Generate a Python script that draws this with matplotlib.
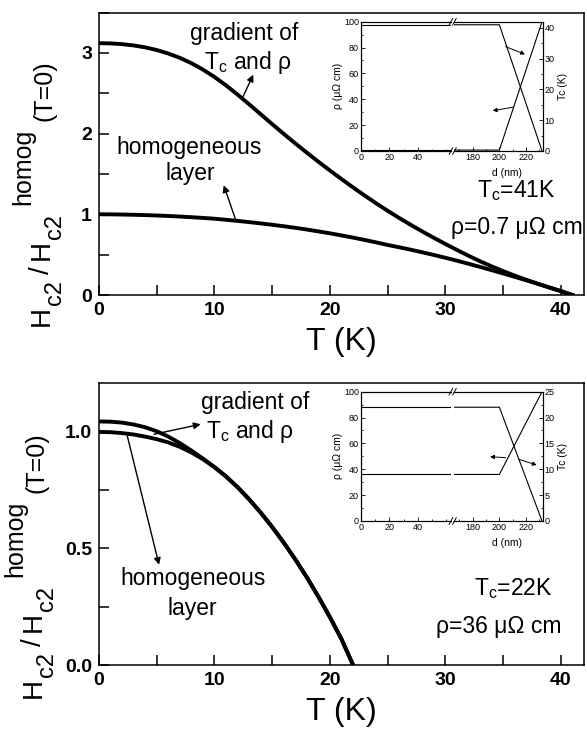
import matplotlib
matplotlib.use('Agg')
import matplotlib.pyplot as plt
from matplotlib.ticker import MultipleLocator, FixedLocator

plt.rcParams['font.family'] = ['Liberation Sans', 'DejaVu Sans']
plt.rcParams['mathtext.fontset'] = 'custom'
plt.rcParams['mathtext.rm'] = 'Liberation Sans'
plt.rcParams['mathtext.it'] = 'Liberation Sans:italic'
plt.rcParams['mathtext.bf'] = 'Liberation Sans:bold'

# upper panel: Tc = 41 K, rho = 0.7 uOhm cm
t_top = list(range(0, 42))
hc2_homog_top = [1.0, 0.999, 0.997, 0.994, 0.990, 0.985, 0.979, 0.972, 0.964, 0.955,
                 0.945, 0.932, 0.918, 0.903, 0.887, 0.870, 0.852, 0.832, 0.811, 0.788,
                 0.764, 0.738, 0.711, 0.682, 0.652, 0.620, 0.591, 0.561, 0.529, 0.496,
                 0.461, 0.425, 0.387, 0.348, 0.308, 0.267, 0.225, 0.182, 0.138, 0.093,
                 0.048, 0.0]
hc2_grad_top = [3.12, 3.117, 3.108, 3.092, 3.068, 3.035, 2.992, 2.938, 2.872, 2.793,
                2.701, 2.597, 2.483, 2.363, 2.240, 2.117, 1.996, 1.878, 1.763, 1.651,
                1.542, 1.436, 1.333, 1.233, 1.136, 1.043, 0.954, 0.869, 0.787, 0.708,
                0.632, 0.558, 0.486, 0.418, 0.355, 0.296, 0.240, 0.188, 0.140, 0.093,
                0.048, 0.0]

# lower panel: Tc = 22 K, rho = 36 uOhm cm
t_bot = list(range(0, 23))
hc2_homog_bot = [1.0, 0.999, 0.995, 0.989, 0.980, 0.969, 0.955, 0.936, 0.912, 0.883,
                 0.849, 0.809, 0.763, 0.711, 0.654, 0.592, 0.525, 0.453, 0.376, 0.293,
                 0.205, 0.111, 0.0]
hc2_grad_bot = [1.045, 1.044, 1.040, 1.032, 1.020, 1.003, 0.980, 0.952, 0.920, 0.886,
                0.849, 0.809, 0.763, 0.711, 0.654, 0.592, 0.525, 0.453, 0.376, 0.293,
                0.205, 0.111, 0.0]

# inset profiles vs depth d (nm)
d_nm = [0, 200, 232]
rho_top = [0.7, 0.7, 100]
tc_top = [41, 41, 0]
rho_bot = [36, 36, 100]
tc_bot = [22, 22, 0]

W, H = 587, 740
fig = plt.figure(figsize=(W / 100, H / 100), dpi=100)
renderer = fig.canvas.get_renderer()


def px_axes(x0, y0, x1, y1):
    return fig.add_axes([x0 / W, 1 - y1 / H, (x1 - x0) / W, (y1 - y0) / H])


# y label pieces: (text, size, sideways offset in px (+ = lower for rotated text), gap before)
ylab_pieces = [('H', 20, 0, 0), ('c2', 17, 13, 1), ('/', 20, 0, 6), ('H', 20, 0, 6),
               ('c2', 17, 13, 1), ('homog', 18, -19, 9), ('(T=0)', 18, 3, 8)]


def stacked_ylabel(xc, yc, pieces):
    items = []
    for s, size, dx, gap in pieces:
        t = fig.text(0, 0, s, fontsize=size, rotation=90, ha='center', va='center')
        items.append((t, dx, gap, t.get_window_extent(renderer).height))
    total = sum(h + g for _, _, g, h in items)
    y = yc + total / 2
    for t, dx, gap, h in items:
        y -= gap
        t.set_position(((xc + dx) / W, 1 - (y - h / 2) / H))
        y -= h


def main_panel(ax, t, homog, t2, grad, ymax, ystep, yminor, yfmt):
    ax.plot(t, homog, color='k', lw=2.8, solid_joinstyle='round')
    ax.plot(t2, grad, color='k', lw=2.8, solid_joinstyle='round')
    ax.set_xlim(0, 42)
    ax.set_ylim(0, ymax)
    ax.xaxis.set_major_locator(MultipleLocator(10))
    ax.xaxis.set_minor_locator(MultipleLocator(5))
    ax.yaxis.set_major_locator(MultipleLocator(ystep))
    ax.yaxis.set_minor_locator(MultipleLocator(yminor))
    ax.yaxis.set_major_formatter(yfmt)
    ax.tick_params(which='both', direction='in', top=False, right=False, width=1.1)
    ax.tick_params(which='major', length=7, labelsize=14, pad=5)
    ax.tick_params(which='minor', length=7)
    for lab in ax.get_xticklabels() + ax.get_yticklabels():
        lab.set_fontweight('bold')
    for s in ax.spines.values():
        s.set_linewidth(1.1)
    ax.set_xlabel('T (K)', fontsize=23)
    ax.xaxis.set_label_coords(0.5, -0.115)


def inset(x0, y0, x1, y1, d, rho, tc, tc_max, tc_step, arrows):
    gap = 3.5
    xm = 452.7
    axl = px_axes(x0, y0, xm - gap / 2, y1)
    axr = px_axes(xm + gap / 2, y0, x1, y1)
    axl2 = axl.twinx()
    axr2 = axr.twinx()
    axl.set_xlim(0, (xm - gap / 2 - x0) / 1.417)
    axr.set_xlim(180 - (472.7 - xm - gap / 2) / 1.333, 232.5)
    axl.xaxis.set_major_locator(FixedLocator([0, 20, 40]))
    axr.xaxis.set_major_locator(FixedLocator([180, 200, 220]))
    for a in (axl, axr):
        a.plot(d, rho, color='k', lw=0.8)
        a.set_ylim(0, 100)
        a.tick_params(which='both', direction='in', labelsize=6.5, width=0.6, pad=1.5)
        a.tick_params(which='major', length=3)
        a.tick_params(which='minor', length=1.5)
        a.xaxis.set_minor_locator(MultipleLocator(10))
        a.yaxis.set_major_locator(MultipleLocator(20))
        a.yaxis.set_minor_locator(MultipleLocator(10))
        for s in a.spines.values():
            s.set_linewidth(0.8)
    for a in (axl2, axr2):
        a.plot(d, tc, color='k', lw=0.8)
        a.set_ylim(0, tc_max)
        a.yaxis.set_major_locator(MultipleLocator(tc_step))
        a.yaxis.set_minor_locator(MultipleLocator(tc_step / 2))
        a.tick_params(which='both', direction='in', labelsize=6.5, width=0.6, pad=1.5)
        a.tick_params(which='major', length=3)
        a.tick_params(which='minor', length=1.5)
        for s in a.spines.values():
            s.set_linewidth(0.8)
    axl.spines['right'].set_visible(False)
    axl2.spines['right'].set_visible(False)
    axl2.tick_params(which='both', right=False, labelright=False)
    axr.spines['left'].set_visible(False)
    axr2.spines['left'].set_visible(False)
    axr.tick_params(which='both', left=False, labelleft=False)
    axl.set_ylabel(u'ρ (μΩ cm)', fontsize=7.5, labelpad=1)
    axr2.set_ylabel('Tc (K)', fontsize=7.5, labelpad=2)
    fig.text(507 / W, 1 - (y1 + 22) / H, 'd (nm)', fontsize=7.5, ha='center', va='center')
    # break marks
    kw = dict(color='k', lw=0.7, clip_on=False)
    for a, xe in ((axl, 1.0), (axr, 0.0)):
        for ye in (0.0, 1.0):
            a.plot([xe - 0.02, xe + 0.02], [ye - 0.025, ye + 0.025], transform=a.transAxes, **kw)
    for (xs, ys), (xt, yt) in arrows:
        axr.annotate('', xy=(xt, yt), xytext=(xs, ys),
                     arrowprops=dict(arrowstyle='-|>', lw=0.7, color='k',
                                     mutation_scale=6, shrinkA=0, shrinkB=0))


# ---- upper panel
ax1 = px_axes(99, 12.5, 584, 295)
main_panel(ax1, t_top, hc2_homog_top, t_top, hc2_grad_top, 3.5, 1, 0.5,
           lambda v, p: '%d' % v)
stacked_ylabel(42, 193, ylab_pieces)
fs = 16.5
ax1.text(12.6, 3.16, 'gradient of', fontsize=fs, ha='center', va='baseline')
ax1.text(12.9, 2.80, u'T$_{\\rm c}$ and ρ', fontsize=fs, ha='center', va='baseline')
ax1.text(7.8, 1.75, 'homogeneous', fontsize=fs, ha='center', va='baseline')
ax1.text(7.9, 1.42, 'layer', fontsize=fs, ha='center', va='baseline')
ax1.text(36.1, 1.215, r'T$_{\rm c}$=41K', fontsize=fs, ha='center', va='baseline')
ax1.text(36.2, 0.76, u'ρ=0.7 μΩ cm', fontsize=fs, ha='center', va='baseline')
arw = dict(arrowstyle='-|>', lw=1.0, color='k', mutation_scale=10, shrinkA=0, shrinkB=0)
ax1.annotate('', xy=(13.36, 2.73), xytext=(12.35, 2.42), arrowprops=arw)
ax1.annotate('', xy=(10.8, 1.36), xytext=(11.84, 0.93), arrowprops=arw)

inset(361, 21.7, 542.7, 151, d_nm, rho_top, tc_top, 42, 10,
      [((204.7, 80.7), (219.2, 74.8)), ((210, 33.8), (195, 31.2))])

# ---- lower panel
ax2 = px_axes(99, 383, 584, 665)
main_panel(ax2, t_bot, hc2_homog_bot, t_bot, hc2_grad_bot, 1.21, 0.5, 0.25,
           lambda v, p: '%.1f' % v)
stacked_ylabel(34, 565, ylab_pieces)
ax2.text(13.56, 1.10, 'gradient of', fontsize=fs, ha='center', va='baseline')
ax2.text(13.05, 0.976, u'T$_{\\rm c}$ and ρ', fontsize=fs, ha='center', va='baseline')
ax2.text(8.14, 0.344, 'homogeneous', fontsize=fs, ha='center', va='baseline')
ax2.text(8.05, 0.215, 'layer', fontsize=fs, ha='center', va='baseline')
ax2.text(35.9, 0.30, r'T$_{\rm c}$=22K', fontsize=fs, ha='center', va='baseline')
ax2.text(34.6, 0.138, u'ρ=36 μΩ cm', fontsize=fs, ha='center', va='baseline')
ax2.annotate('', xy=(8.8, 1.033), xytext=(4.76, 0.99), arrowprops=arw)
ax2.annotate('', xy=(5.2, 0.43), xytext=(2.45, 0.983), arrowprops=arw)

inset(361, 391.7, 542.7, 521, d_nm, rho_bot, tc_bot, 25, 5,
      [((204.7, 49.0), (193, 49.7)), ((214.7, 47.7), (228, 43.3))])

fig.savefig('out.png', dpi=100)
